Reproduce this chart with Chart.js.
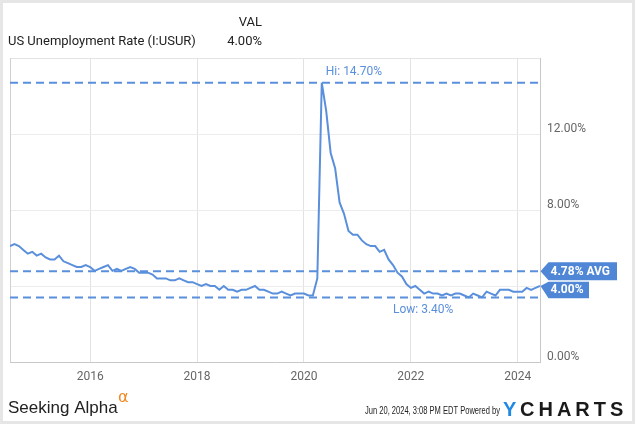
<!DOCTYPE html>
<html>
<head>
<meta charset="utf-8">
<script src="https://cdn.jsdelivr.net/npm/chart.js@4.4.1/dist/chart.umd.min.js"></script>
<style>
  html, body { margin: 0; padding: 0; background: #fff; }
  #wrap { width: 635px; height: 424px; }
</style>
</head>
<body>
<div id="wrap"><canvas id="chart" width="635" height="424"></canvas></div>
<script>
// monthly values, first one is June 2014 (dated month end)
const firstMonth = [2014, 6];
const rates = [
  6.1, 6.2, 6.1, 5.9, 5.7, 5.8, 5.6,
  5.7, 5.5, 5.4, 5.4, 5.6, 5.3, 5.2, 5.1, 5.0, 5.0, 5.1, 5.0,
  4.8, 4.9, 5.0, 5.1, 4.8, 4.9, 4.8, 4.9, 5.0, 4.9, 4.7, 4.7,
  4.7, 4.6, 4.4, 4.4, 4.4, 4.3, 4.3, 4.4, 4.3, 4.2, 4.2, 4.1,
  4.0, 4.1, 4.0, 4.0, 3.8, 4.0, 3.8, 3.8, 3.7, 3.8, 3.8, 3.9,
  4.0, 3.8, 3.8, 3.7, 3.6, 3.6, 3.7, 3.6, 3.5, 3.6, 3.6, 3.6,
  3.5, 3.5, 4.4, 14.7, 13.2, 11.0, 10.2, 8.4, 7.8, 6.9, 6.7, 6.7,
  6.4, 6.2, 6.1, 6.1, 5.8, 5.9, 5.4, 5.1, 4.7, 4.5, 4.1, 3.9,
  4.0, 3.8, 3.6, 3.7, 3.6, 3.6, 3.5, 3.6, 3.5, 3.6, 3.6, 3.5,
  3.4, 3.6, 3.5, 3.4, 3.7, 3.6, 3.5, 3.8, 3.8, 3.8, 3.7, 3.7,
  3.7, 3.9, 3.8, 3.9, 4.0
];
const hiValue = 14.7;
const lowValue = 3.4;
const avgValue = 4.78;
const lastValue = 4.0;
const yearTicks = [2016, 2018, 2020, 2022, 2024];
const yTicks = [0, 4, 8, 12, 16];
const yTickShown = [0, 8, 12]; // 4 sits under the badges

const BLUE = "#5a8fdc";
const FONT = "Roboto";

const points = rates.map((v, i) => ({ x: firstMonth[0] + (firstMonth[1] + i) / 12, y: v }));
const xMin = points[0].x;
const xMax = points[points.length - 1].x;
const peak = points.find(p => p.y === hiValue);

function refLine(v) {
  return {
    data: [{ x: xMin, y: v }, { x: xMax, y: v }],
    borderColor: BLUE,
    borderWidth: 2,
    borderDash: [8, 5],
    pointRadius: 0
  };
}

function badge(ctx, tipX, tipY, top, bottom, right, text) {
  ctx.fillStyle = "#4f86d6";
  ctx.beginPath();
  ctx.moveTo(tipX, tipY);
  ctx.lineTo(tipX + 8, top);
  ctx.lineTo(right, top);
  ctx.lineTo(right, bottom);
  ctx.lineTo(tipX + 8, bottom);
  ctx.closePath();
  ctx.fill();
  ctx.fillStyle = "#fff";
  ctx.font = `bold 12px ${FONT}`;
  ctx.textAlign = "left";
  ctx.textBaseline = "middle";
  ctx.fillText(text, tipX + 10, (top + bottom) / 2 + 0.5);
}

const extras = {
  id: "extras",
  beforeDatasetsDraw(chart) {
    const { ctx, chartArea: a } = chart;
    ctx.save();
    ctx.strokeStyle = "#e4e4e4";
    ctx.lineWidth = 1;
    ctx.beginPath();
    ctx.moveTo(a.left, a.top + 0.5);
    ctx.lineTo(a.right, a.top + 0.5);
    ctx.stroke();
    ctx.strokeStyle = "#d0d0d0";
    ctx.beginPath();
    ctx.moveTo(a.left + 0.5, a.top);
    ctx.lineTo(a.left + 0.5, a.bottom);
    ctx.stroke();
    ctx.restore();
  },
  afterDraw(chart) {
    const { ctx, chartArea: a } = chart;
    const xs = chart.scales.x, ys = chart.scales.y;
    ctx.save();

    // header
    ctx.fillStyle = "#222";
    ctx.font = `13px ${FONT}`;
    ctx.textBaseline = "middle";
    ctx.textAlign = "right";
    ctx.fillText("VAL", 262, 23);
    ctx.fillText(lastValue.toFixed(2) + "%", 262, 41.5);
    ctx.textAlign = "left";
    ctx.fillText("US Unemployment Rate (I:USUR)", 8, 41.5);

    // hi / low labels
    ctx.fillStyle = BLUE;
    ctx.font = `12px ${FONT}`;
    ctx.fillText("Hi: " + hiValue.toFixed(2) + "%", xs.getPixelForValue(peak.x) + 4, ys.getPixelForValue(hiValue) - 11);
    ctx.fillText("Low: " + lowValue.toFixed(2) + "%", a.left + 383, ys.getPixelForValue(lowValue) + 13);

    // right badges
    const yAvg = ys.getPixelForValue(avgValue);
    const yLast = ys.getPixelForValue(lastValue);
    badge(ctx, a.right + 0.5, yAvg, yAvg - 9, yAvg + 9, 617, avgValue.toFixed(2) + "% AVG");
    const t2 = yAvg + 10.5;
    badge(ctx, a.right + 0.5, yLast, t2, t2 + 16.5, 589, lastValue.toFixed(2) + "%");

    // footer
    ctx.textBaseline = "alphabetic";
    ctx.textAlign = "left";
    ctx.fillStyle = "#222";
    ctx.font = `17px "Liberation Sans"`;
    ctx.fillText("Seeking Alpha", 8, 413, 110);
    ctx.fillStyle = "#f08a24";
    ctx.font = `16px "DejaVu Sans"`;
    ctx.fillText("\u03b1", 118, 402);
    ctx.fillStyle = "#222";
    ctx.font = `11px "Liberation Sans"`;
    ctx.fillText("Jun 20, 2024, 3:08 PM EDT Powered by", 365, 414, 135);
    ctx.font = `bold 20px "Liberation Sans"`;
    ctx.letterSpacing = "4px";
    ctx.fillStyle = "#2089e3";
    ctx.fillText("Y", 503, 416);
    ctx.fillStyle = "#1a1a1a";
    ctx.fillText("CHARTS", 520, 416);
    ctx.letterSpacing = "0px";

    // outer frame
    ctx.strokeStyle = "#e6e6e6";
    ctx.lineWidth = 3;
    ctx.strokeRect(1.5, 1.5, 632, 421);
    ctx.restore();
  }
};

new Chart(document.getElementById("chart"), {
  type: "line",
  data: {
    datasets: [
      {
        data: points,
        borderColor: BLUE,
        borderWidth: 2,
        pointRadius: 0,
        tension: 0
      },
      refLine(hiValue),
      refLine(avgValue),
      refLine(lowValue)
    ]
  },
  options: {
    responsive: false,
    animation: false,
    layout: { padding: { left: 10, top: 58, right: 0, bottom: 0 } },
    plugins: { legend: { display: false }, tooltip: { enabled: false } },
    scales: {
      x: {
        type: "linear",
        min: xMin,
        max: xMax,
        afterBuildTicks: s => { s.ticks = yearTicks.map(v => ({ value: v })); },
        afterFit: s => { s.height = 62; },
        grid: { color: "#e2e2e2", drawTicks: false },
        border: { color: "#c8c8c8" },
        ticks: {
          color: "#666",
          font: { family: FONT, size: 12 },
          padding: 8,
          maxRotation: 0,
          callback: v => String(v)
        }
      },
      y: {
        position: "right",
        min: 0,
        max: 16,
        afterBuildTicks: s => { s.ticks = yTicks.map(v => ({ value: v })); },
        afterFit: s => { s.width = 95; },
        grid: { color: "#ececec", drawTicks: false },
        border: { color: "#c8c8c8" },
        ticks: {
          color: "#666",
          font: { family: FONT, size: 12 },
          padding: 7,
          labelOffset: -5,
          callback: v => yTickShown.includes(v) ? v.toFixed(2) + "%" : ""
        }
      }
    }
  },
  plugins: [extras]
});
</script>
</body>
</html>
